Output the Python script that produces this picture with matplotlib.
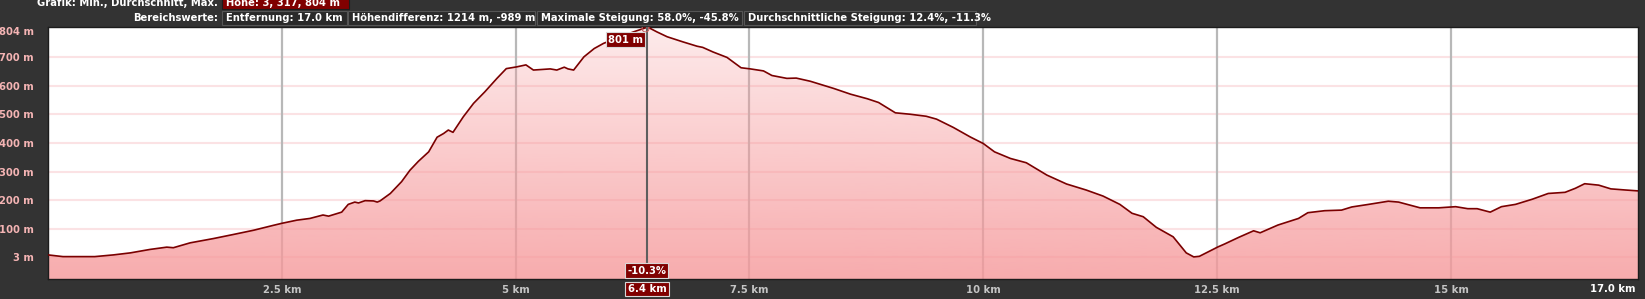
#!/usr/bin/env python3
"""Elevation profile (Höhenprofil) 0-17 km, dark GPS-viewer style."""
import matplotlib
matplotlib.use("Agg")
import matplotlib.pyplot as plt
import numpy as np
from matplotlib.patches import Rectangle
from matplotlib.colors import LinearSegmentedColormap

W, H = 1645, 299
BG = "#333333"

# profile (km, m)
DIST_KM = [0.00, 0.16, 0.50, 0.70, 0.88, 1.09, 1.27, 1.34, 1.52, 1.77, 1.98, 2.20,
           2.41, 2.50, 2.66, 2.80, 2.94, 3.00, 3.14, 3.21, 3.28, 3.32, 3.39, 3.48,
           3.52, 3.55, 3.66, 3.78, 3.87, 3.96, 4.07, 4.16, 4.23, 4.28, 4.33, 4.44,
           4.55, 4.67, 4.80, 4.90, 5.01, 5.11, 5.19, 5.37, 5.44, 5.52, 5.56, 5.62,
           5.73, 5.84, 5.94, 6.12, 6.26, 6.37, 6.41, 6.51, 6.62, 6.79, 6.94, 7.00,
           7.11, 7.26, 7.41, 7.51, 7.65, 7.74, 7.90, 8.00, 8.15, 8.25, 8.40, 8.58,
           8.76, 8.88, 9.06, 9.22, 9.39, 9.50, 9.68, 9.86, 10.00, 10.12, 10.29,
           10.46, 10.68, 10.89, 11.10, 11.28, 11.46, 11.59, 11.71, 11.85, 12.03,
           12.17, 12.25, 12.31, 12.51, 12.58, 12.73, 12.89, 12.96, 13.15, 13.37,
           13.47, 13.65, 13.83, 13.94, 14.12, 14.33, 14.44, 14.67, 14.87, 15.05,
           15.18, 15.28, 15.42, 15.54, 15.69, 15.87, 16.04, 16.22, 16.33, 16.43,
           16.58, 16.71, 16.87, 17.00]
ELEV_M = [10, 4, 4, 10, 17, 29, 37, 35, 52, 67, 81, 96,
          113, 120, 131, 137, 149, 145, 159, 186, 194, 191, 199, 198,
          194, 198, 224, 265, 305, 336, 369, 420, 433, 445, 437, 491,
          538, 578, 625, 659, 665, 672, 654, 658, 654, 664, 658, 654,
          700, 729, 747, 770, 787, 799, 804, 787, 770, 752, 737, 733,
          717, 698, 662, 658, 651, 635, 625, 626, 615, 605, 590, 570,
          554, 541, 505, 500, 493, 483, 454, 421, 398, 369, 346,
          331, 288, 257, 236, 215, 186, 155, 143, 106, 73,
          17, 3, 5, 38, 48, 71, 94, 87, 114, 137,
          157, 164, 166, 177, 186, 197, 194, 174, 174, 178,
          171, 171, 159, 178, 186, 204, 224, 228, 242, 258,
          253, 240, 236, 233]

Y_TICKS = [3, 100, 200, 300, 400, 500, 600, 700, 804]
X_TICKS = [2.5, 5, 7.5, 10, 12.5, 15]
X_TICK_LABELS = ["2.5 km", "5 km", "7.5 km", "10 km", "12.5 km", "15 km"]

CURSOR_KM = 6.4
CURSOR_ELEV = "801 m"
CURSOR_SLOPE = "-10.3%"

HEADER_1 = "Grafik: Min., Durchschnitt, Max."
HEADER_1_BOX = "Höhe: 3, 317, 804 m"
HEADER_2 = "Bereichswerte:"
HEADER_2_BOXES = ["Entfernung: 17.0 km", "Höhendifferenz: 1214 m, -989 m",
                  "Maximale Steigung: 58.0%, -45.8%",
                  "Durchschnittliche Steigung: 12.4%, -11.3%"]

FS = 7.2


def fx(px):
    return px / W


def fy(py):
    return 1 - py / H


fig = plt.figure(figsize=(W / 100, H / 100), dpi=100, facecolor=BG)
ax = fig.add_axes([fx(48), fy(279), fx(1638) - fx(48), fy(27) - fy(279)])
ax.set_facecolor("white")
ax.set_xlim(0, 17.0)
ax.set_ylim(-74, 804)

# grid behind the translucent fill
for y in Y_TICKS[:-1]:
    ax.axhline(y, color="#fbe2e4", lw=1.5, zorder=1)
for x in X_TICKS:
    ax.axvline(x, color="#b8b8b8", lw=1.6, zorder=1)

# gradient fill under the profile, clipped to the area
poly = ax.fill_between(DIST_KM, ELEV_M, -74, color="none", lw=0, zorder=2)
grad = np.linspace(1, 0, 256).reshape(-1, 1)
cmap = LinearSegmentedColormap.from_list(
    "prof", [(0.965, 0.60, 0.61, 0.20), (0.965, 0.60, 0.61, 0.82)])
im = ax.imshow(1 - grad, cmap=cmap, aspect="auto", extent=[0, 17.0, -74, 804],
               origin="upper", zorder=2, interpolation="bilinear")
path = poly.get_paths()[0]
im.set_clip_path(path, transform=ax.transData)
ax.plot(DIST_KM, ELEV_M, color="#7a0000", lw=1.2, zorder=4)

# cursor
ax.axvline(CURSOR_KM, color="#5e5e5e", lw=1.5, zorder=5)
ax.plot([6.38], [801], marker="o", ms=5, mfc="none", mec="#c06060", mew=0.8, zorder=6)

box = dict(boxstyle="square,pad=0.22", fc="#800000", ec="#d8d8d8", lw=0.8)
ax.text(CURSOR_KM - 0.04, 760, CURSOR_ELEV, ha="right", va="center", color="white",
        fontsize=FS, fontweight="bold", bbox=box, zorder=7)
ax.text(CURSOR_KM, -45, CURSOR_SLOPE, ha="center", va="center", color="white",
        fontsize=FS, fontweight="bold", bbox=box, zorder=7)

# axes ticks
ax.set_yticks(Y_TICKS)
ax.set_yticklabels([f"{v} m" for v in Y_TICKS])
ax.tick_params(axis="y", length=0, pad=10, labelcolor="#f4b4b4", labelsize=FS)
for lab in ax.get_yticklabels():
    lab.set_fontweight("bold")
ax.get_yticklabels()[-1].set_va("top")
ax.set_xticks(X_TICKS)
ax.set_xticklabels(X_TICK_LABELS)
ax.tick_params(axis="x", length=0, pad=4, labelcolor="#c4c4c4", labelsize=FS)
for lab in ax.get_xticklabels():
    lab.set_fontweight("bold")
for s in ax.spines.values():
    s.set_color("#1c1c1c")
    s.set_linewidth(1.0)

fig.text(fx(1636), fy(289), "17.0 km", ha="right", va="center", color="white",
         fontsize=FS, fontweight="bold")
fig.text(fx(647), fy(289), f"{CURSOR_KM} km", ha="center", va="center",
         color="white", fontsize=FS, fontweight="bold", bbox=box)

# header row 1 (cut at top edge)
fig.text(fx(218), fy(3), HEADER_1, ha="right", va="center", color="white",
         fontsize=FS, fontweight="bold")
fig.add_artist(Rectangle((fx(222), fy(9)), fx(349) - fx(222), fy(-2) - fy(9),
                         transform=fig.transFigure, fc="#800000", ec="#1c1c1c", lw=0.8))
fig.text(fx(226), fy(3), HEADER_1_BOX, ha="left", va="center", color="white",
         fontsize=FS, fontweight="bold")

# header row 2
fig.text(fx(218), fy(18), HEADER_2, ha="right", va="center", color="white",
         fontsize=FS, fontweight="bold")
edges = [(222, 347), (348, 535), (537, 742), (744, 976)]
for (x0, x1), txt in zip(edges, HEADER_2_BOXES):
    fig.add_artist(Rectangle((fx(x0), fy(25)), fx(x1) - fx(x0), fy(11) - fy(25),
                             transform=fig.transFigure, fc="#2a2a2a", ec="#555555",
                             lw=0.8))
    fig.text(fx(x0 + 4), fy(18), txt, ha="left", va="center", color="white",
             fontsize=FS, fontweight="bold")

fig.savefig("out.png", dpi=100, facecolor=BG)
